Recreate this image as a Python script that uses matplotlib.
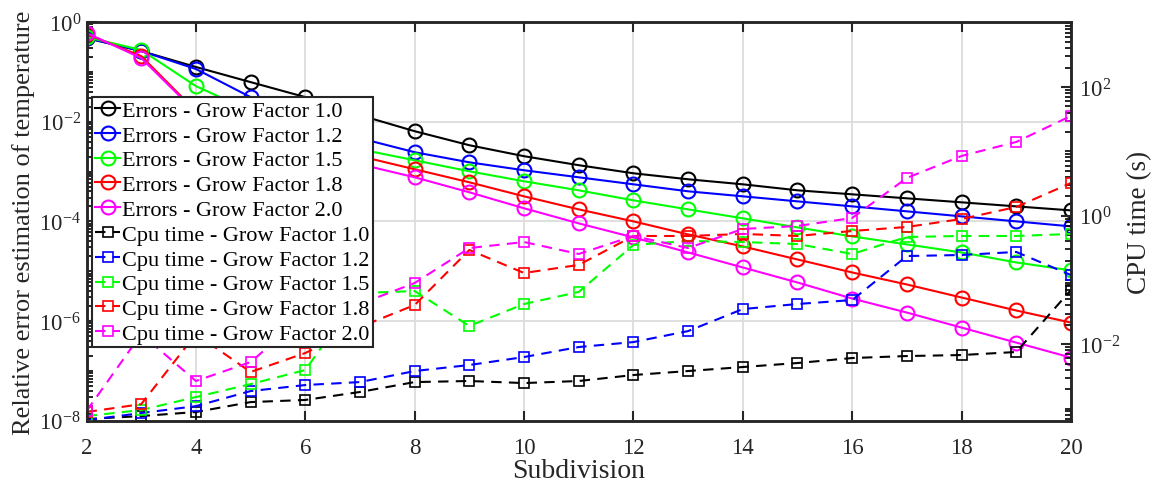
import numpy as np
import matplotlib
matplotlib.use("Agg")
import matplotlib.pyplot as plt
from matplotlib.ticker import LogLocator, NullFormatter

plt.rcParams['font.family'] = ['Liberation Serif', 'DejaVu Serif']
plt.rcParams['mathtext.fontset'] = 'stix'

subdiv = [2, 3, 4, 5, 6, 7, 8, 9, 10, 11, 12, 13, 14, 15, 16, 17, 18, 19, 20]
factors = ['1.0', '1.2', '1.5', '1.8', '2.0']
colors = ['k', (0, 0, 1), (0, 1, 0), (1, 0, 0), (1, 0, 1)]

# relative error of temperature (left axis)
err_10 = [0.477, 0.261, 0.125, 0.0622, 0.0311, 0.0135, 0.00644, 0.00337, 0.00203, 0.00134,
          9.22e-4, 6.99e-4, 5.54e-4, 4.20e-4, 3.49e-4, 2.90e-4, 2.41e-4, 2.00e-4, 1.66e-4]
err_12 = [0.477, 0.261, 0.114, 0.0311, 0.0112, 0.00466, 0.00244, 0.00153, 0.00106, 7.66e-4,
          5.54e-4, 4.01e-4, 3.18e-4, 2.52e-4, 2.00e-4, 1.59e-4, 1.26e-4, 1.00e-4, 7.93e-5]
err_15 = [0.50, 0.274, 0.0517, 0.0163, 0.00561, 0.00280, 0.00168, 0.00101, 6.37e-4, 4.20e-4,
          2.64e-4, 1.74e-4, 1.15e-4, 7.57e-5, 4.99e-5, 3.45e-5, 2.38e-5, 1.50e-5, 1.04e-5]
err_18 = [0.574, 0.207, 0.0163, 0.00707, 0.00353, 0.00203, 0.00111, 6.08e-4, 3.18e-4, 1.74e-4,
          1.00e-4, 5.48e-5, 3.14e-5, 1.72e-5, 9.44e-6, 5.42e-6, 2.97e-6, 1.63e-6, 9.33e-7]
err_20 = [0.601, 0.189, 0.0155, 0.00615, 0.00280, 0.00140, 7.66e-4, 3.83e-4, 1.83e-4, 9.12e-5,
          4.77e-5, 2.38e-5, 1.19e-5, 5.94e-6, 2.83e-6, 1.48e-6, 7.40e-7, 3.70e-7, 1.85e-7]

# CPU time in seconds (right axis)
cpu_10 = [6.87e-4, 7.64e-4, 8.83e-4, 1.26e-3, 1.36e-3, 1.81e-3, 2.58e-3, 2.68e-3, 2.49e-3, 2.68e-3,
          3.32e-3, 3.83e-3, 4.42e-3, 5.10e-3, 6.10e-3, 6.55e-3, 6.79e-3, 7.57e-3, 0.0697]
cpu_12 = [6.6e-4, 8.51e-4, 1.09e-3, 1.87e-3, 2.32e-3, 2.58e-3, 3.83e-3, 4.75e-3, 6.32e-3, 9.04e-3,
          0.0108, 0.0160, 0.0352, 0.0422, 0.0486, 0.235, 0.244, 0.272, 0.119]
cpu_15 = [7.64e-4, 9.48e-4, 1.51e-3, 2.40e-3, 3.97e-3, 0.0625, 0.0671, 0.0192, 0.0422, 0.0649,
          0.349, 0.403, 0.388, 0.361, 0.253, 0.465, 0.482, 0.482, 0.518]
cpu_18 = [8.83e-4, 1.17e-3, 0.0144, 3.70e-3, 7.30e-3, 0.0185, 0.0407, 0.292, 0.128, 0.171,
          0.482, 0.482, 0.518, 0.482, 0.576, 0.665, 0.885, 1.36, 3.21]
cpu_20 = [9.14e-4, 0.0144, 2.68e-3, 5.28e-3, 0.0284, 0.0422, 0.0895, 0.313, 0.388, 0.253,
          0.482, 0.313, 0.619, 0.689, 0.918, 3.85, 8.45, 13.96, 35.4]

errors = [err_10, err_12, err_15, err_18, err_20]
cpus = [cpu_10, cpu_12, cpu_15, cpu_18, cpu_20]

fig = plt.figure(figsize=(11.54, 4.89), dpi=100)
ax = fig.add_axes([0.075, 0.1375, 0.853, 0.8155])
ax2 = ax.twinx()

tick_col = '#262626'
handles = []
for f, c, e in zip(factors, colors, errors):
    h, = ax.plot(subdiv, e, '-o', color=c, lw=1.5, ms=10, mfc='none', mew=1.5,
                 label='Errors - Grow Factor ' + f)
    handles.append(h)
for f, c, t in zip(factors, colors, cpus):
    h, = ax2.plot(subdiv, t, '--s', color=c, lw=1.5, ms=7, mfc='none', mew=1.2,
                  dashes=(5, 3.5), label='Cpu time - Grow Factor ' + f)
    handles.append(h)

ax.set_yscale('log')
ax.set_ylim(1e-8, 1e0)
ax.set_yticks([1e-8, 1e-6, 1e-4, 1e-2, 1e0])
ax.yaxis.set_minor_locator(LogLocator(base=10, subs=np.arange(1, 10), numticks=100))
ax.yaxis.set_minor_formatter(NullFormatter())
ax.set_xlim(2, 20)
ax.set_xticks(range(2, 21, 2))
ax.grid(True, which='major', color='#dcdcdc', lw=1.3)
ax.set_axisbelow(True)

ax2.set_yscale('log')
ax2.set_ylim(10 ** -3.19, 10 ** 3.01)
ax2.set_yticks([1e-2, 1e0, 1e2])
ax2.yaxis.set_minor_locator(LogLocator(base=10, subs=np.arange(1, 10), numticks=100))
ax2.yaxis.set_minor_formatter(NullFormatter())

ax.tick_params(axis='x', which='both', direction='in', top=True, length=7, width=1.5,
               labelsize=16.5, colors=tick_col, pad=12)
ax.tick_params(axis='y', which='major', direction='in', right=False, length=7, width=1.5,
               labelsize=16.5, colors=tick_col, pad=4)
ax.tick_params(axis='y', which='minor', direction='in', right=False, length=4, width=1.2)
ax2.tick_params(axis='y', which='major', direction='in', length=7, width=1.5,
                labelsize=16.5, colors=tick_col, pad=6)
ax2.tick_params(axis='y', which='minor', direction='in', length=4, width=1.2)

for a in (ax, ax2):
    for s in a.spines.values():
        s.set_linewidth(1.8)
        s.set_color(tick_col)

ax.set_xlabel('Subdivision', fontsize=20, color=tick_col, labelpad=0)
ax.set_ylabel('Relative error estimation of temperature', fontsize=19, color=tick_col)
ax.yaxis.set_label_coords(-0.052, 0.5)
ax2.set_ylabel('CPU time (s)', fontsize=19.5, color=tick_col)
ax2.yaxis.set_label_coords(1.057, 0.5)

leg = ax2.legend(handles=handles, loc='upper left', bbox_to_anchor=(0.0056, 0.812),
                 fontsize=16, frameon=True, fancybox=False, framealpha=1,
                 edgecolor=tick_col, borderpad=0.15, labelspacing=0.19,
                 handlelength=1.1, handletextpad=0.1, borderaxespad=0)
leg.get_frame().set_linewidth(1.5)
leg.set_zorder(10)

fig.savefig('out.png', dpi=100)
